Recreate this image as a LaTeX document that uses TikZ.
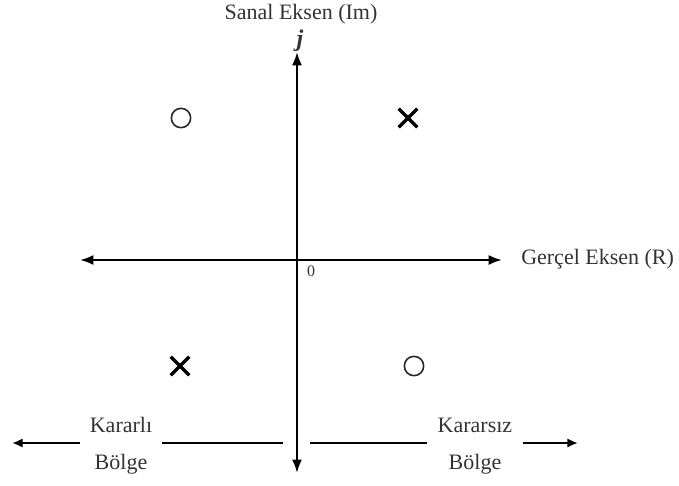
\documentclass[tikz,border=0pt]{standalone}
\usepackage{fontspec}
\setmainfont{Liberation Serif}
\usepackage{xcolor}
\usetikzlibrary{arrows.meta,shapes.misc,positioning}
\tikzset{
  axis/.style={
    {Latex[length=10pt,width=7.5pt]}-{Latex[length=10pt,width=7.5pt]},
    line width=1.7pt
  },
  regionarrow/.style={
    -{Latex[length=8pt,width=7pt]},
    line width=2pt
  },
  regionline/.style={
    line width=2pt
  },
  axistext/.style={
    font=\fontsize{16.5}{18}\selectfont,
    text=black!80,
    inner sep=0pt
  },
  regiontext/.style={
    font=\fontsize{16.5}{28}\selectfont,
    text=black!80,
    align=center,
    inner xsep=7.5pt
  },
  polemark/.style={
    cross out,
    draw=black,
    line width=2.4pt,
    minimum size=11.5pt,
    inner sep=0pt
  },
  zeromark/.style={
    circle,
    draw=black!85,
    line width=1.2pt,
    minimum size=14.5pt,
    inner sep=0pt
  }
}

\begin{document}
\begin{tikzpicture}[x=0.75pt,y=-0.75pt]
\useasboundingbox (0,0) rectangle (679,486);

% axes
\coordinate (xleft) at (80,260);
\coordinate (xright) at (502,260);
\coordinate (ybottom) at (297,473);
\coordinate (ytop) at (297,52);
\draw[axis] (xleft) -- (xright);
\draw[axis] (ybottom) -- (ytop);

\node[axistext] (imlabel) at (301,14) {Sanal Eksen (Im)};
\node[axistext, font=\fontsize{18}{20}\selectfont] (jlabel) at (300,41) {\textit{\textbf{j}}};
\node[axistext, anchor=west] (relabel) at (521,259) {Gerçel Eksen (R)};
\node[axistext, font=\fontsize{12}{14}\selectfont] (origin) at (311,271) {0};

% poles and zeros
\node[zeromark] (z1) at (181,118) {};
\node[polemark] (p1) at (408,118) {};
\node[polemark] (p2) at (180,366) {};
\node[zeromark] (z2) at (414,366) {};

% regions
\node[regiontext] (stable) at (121,446) {Kararlı\\Bölge};
\node[regiontext] (unstable) at (475,446) {Kararsız\\Bölge};

\coordinate (stablein) at (283,443);
\coordinate (stableout) at (12,443);
\coordinate (unstablein) at (310,443);
\coordinate (unstableout) at (578,443);

\draw[regionline] (stablein) -- (stablein -| stable.east);
\draw[regionarrow] (stableout -| stable.west) -- (stableout);
\draw[regionline] (unstablein) -- (unstablein -| unstable.west);
\draw[regionarrow] (unstableout -| unstable.east) -- (unstableout);

\end{tikzpicture}
\end{document}
